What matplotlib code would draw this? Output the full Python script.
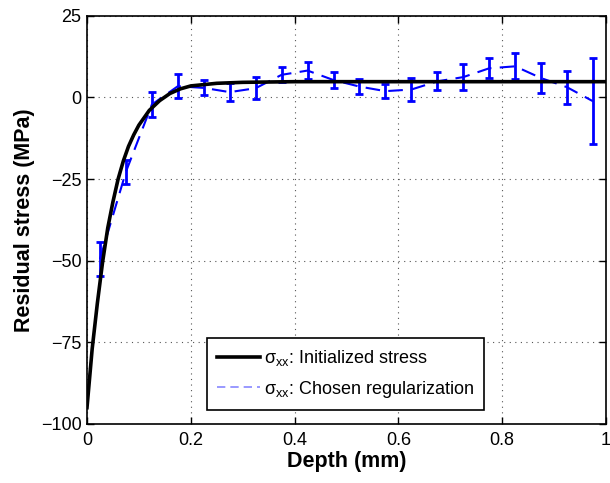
import matplotlib
matplotlib.use("Agg")
from matplotlib import pyplot as plt
from matplotlib.lines import Line2D

# initialized stress curve
init_depth = [0.0, 0.01, 0.02, 0.03, 0.04, 0.05, 0.06, 0.07, 0.08, 0.09, 0.10,
              0.12, 0.14, 0.16, 0.18, 0.20, 0.25, 0.30, 0.40, 0.60, 0.80, 1.0]
init_stress = [-95, -77, -63, -50.5, -40, -32, -25, -19.5, -15, -11.5, -8.5,
               -4, -1, 1.2, 2.6, 3.5, 4.3, 4.6, 4.8, 4.8, 4.8, 4.8]

# chosen regularization with error bars
reg_depth = [0.025, 0.075, 0.125, 0.175, 0.225, 0.275, 0.325, 0.375, 0.425, 0.475,
             0.525, 0.575, 0.625, 0.675, 0.725, 0.775, 0.825, 0.875, 0.925, 0.975]
reg_stress = [-49.5, -22.8, -2.2, 3.4, 2.9, 1.6, 2.8, 6.9, 8.2, 5.3,
              3.3, 1.9, 2.4, 4.9, 6.2, 8.9, 9.5, 5.9, 3.1, -1.2]
reg_err = [5.2, 3.6, 3.9, 3.7, 2.3, 2.7, 3.3, 2.3, 2.6, 2.5,
           2.4, 2.2, 3.5, 2.8, 3.9, 3.1, 4.0, 4.5, 5.1, 13.1]

x_ticks = [0, 0.2, 0.4, 0.6, 0.8, 1.0]
x_labels = ['0', '0.2', '0.4', '0.6', '0.8', '1']
y_ticks = [-100, -75, -50, -25, 0, 25]
y_labels = ['\u2212100', '\u221275', '\u221250', '\u221225', '0', '25']

plt.rcParams['font.family'] = ['Liberation Sans', 'DejaVu Sans']


def main():
    fig = plt.figure(figsize=(6.1, 4.83), dpi=100)
    ax = fig.add_axes([0.1426, 0.1222, 0.8508, 0.8453])

    ax.errorbar(reg_depth, reg_stress, yerr=reg_err, color='#0000ff',
                linestyle=(0, (7, 4)), linewidth=1.5, elinewidth=2,
                capsize=3.2, capthick=2, zorder=3)
    ax.plot(init_depth, init_stress, color='black', linewidth=2.6, zorder=4)

    ax.set_xlim(0, 1)
    ax.set_ylim(-100, 25)
    ax.set_xticks(x_ticks)
    ax.set_xticklabels(x_labels)
    ax.set_yticks(y_ticks)
    ax.set_yticklabels(y_labels)
    ax.tick_params(direction='in', top=True, right=True, labelsize=13,
                   length=5, width=1)
    ax.tick_params(axis='x', pad=6)
    ax.tick_params(axis='y', pad=4)
    ax.grid(True, linestyle=(0, (1, 4)), color='#555555', linewidth=0.8)
    for sp in ax.spines.values():
        sp.set_linewidth(1.2)

    ax.set_xlabel('Depth (mm)', fontsize=15.5, fontweight='bold', labelpad=1)
    ax.set_ylabel('Residual stress (MPa)', fontsize=15.5, fontweight='bold', labelpad=4)

    handles = [Line2D([], [], color='black', linewidth=2.6),
               Line2D([], [], color='#8888ff', linestyle=(0, (5, 3)), linewidth=1.2)]
    labels = [r'$\mathregular{\sigma_{xx}}$: Initialized stress',
              r'$\mathregular{\sigma_{xx}}$: Chosen regularization']
    leg = ax.legend(handles, labels, loc='lower center', bbox_to_anchor=(0.498, 0.035),
                    fontsize=13, fancybox=False, framealpha=1, edgecolor='black',
                    handlelength=2.4, handletextpad=0.2, borderpad=0.55,
                    labelspacing=0.6, borderaxespad=0)
    leg.get_frame().set_linewidth(1.2)

    plt.savefig('out.png', dpi=100)


if __name__ == '__main__':
    main()
